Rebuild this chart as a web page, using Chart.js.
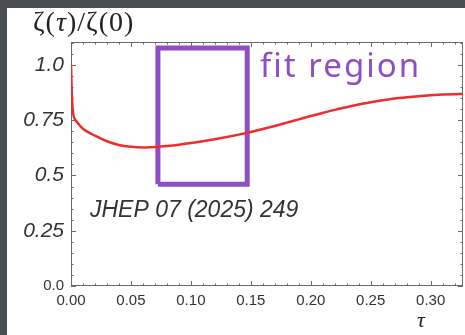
<!DOCTYPE html>
<html>
<head>
<meta charset="utf-8">
<script src="https://cdn.jsdelivr.net/npm/chart.js@4.4.1/dist/chart.umd.min.js"></script>
<style>
html, body { margin: 0; padding: 0; width: 465px; height: 335px; overflow: hidden; background: #4a4d51; }
#panel { position: absolute; left: 7px; top: 8px; width: 458px; height: 327px; background: #fff; }
#wrap { position: absolute; left: 0; top: 0; width: 465px; height: 335px; }
</style>
</head>
<body>
<div id="panel"></div>
<div id="wrap"><canvas id="chart1"></canvas></div>
<script>
// curve
const tauValues = [0, 0.0005, 0.001, 0.002, 0.003, 0.005, 0.0075, 0.01, 0.02, 0.03, 0.04, 0.05, 0.06, 0.07,
    0.08, 0.09, 0.10, 0.11, 0.12, 0.13, 0.14, 0.15, 0.16, 0.17, 0.18, 0.19, 0.20, 0.21, 0.22, 0.23,
    0.24, 0.25, 0.26, 0.27, 0.28, 0.29, 0.30, 0.31, 0.32, 0.327];
const zetaRatio = [1.00, 0.90, 0.83, 0.775, 0.757, 0.742, 0.725, 0.712, 0.68, 0.655, 0.638, 0.630, 0.627, 0.629,
    0.633, 0.639, 0.647, 0.655, 0.664, 0.674, 0.685, 0.697, 0.710, 0.724, 0.739, 0.754, 0.769, 0.783, 0.797, 0.809,
    0.821, 0.831, 0.840, 0.848, 0.854, 0.859, 0.863, 0.866, 0.868, 0.869];

const xTicks = [0, 0.05, 0.10, 0.15, 0.20, 0.25, 0.30];
const xTickLabels = ['0.00', '0.05', '0.10', '0.15', '0.20', '0.25', '0.30'];
const yTicks = [0, 0.25, 0.5, 0.75, 1.0];
const yTickLabels = ['0.0', '0.25', '0.5', '0.75', '1.0'];

// purple box: tau range and zeta range
const fitRegionTau = [0.0725, 0.147];
const fitRegionZeta = [0.46, 1.077];

const curvePoints = tauValues.map((t, i) => ({x: t, y: zetaRatio[i]}));
const boxPoints = [
    {x: fitRegionTau[0], y: fitRegionZeta[0]},
    {x: fitRegionTau[0], y: fitRegionZeta[1]},
    {x: fitRegionTau[1], y: fitRegionZeta[1]},
    {x: fitRegionTau[1], y: fitRegionZeta[0]},
    {x: fitRegionTau[0], y: fitRegionZeta[0]}
];

// Mathematica style frame with inward ticks
const frameTicks = {
    id: 'frameTicks',
    beforeDatasetsDraw(chart) {
        const {ctx, chartArea: a, scales: {x, y}} = chart;
        ctx.save();
        ctx.strokeStyle = '#6a6a6a';
        ctx.lineWidth = 1;
        ctx.strokeRect(a.left + 0.5, a.top + 0.5, a.right - a.left - 1, a.bottom - a.top - 1);
        ctx.beginPath();
        for (let i = 0; i <= 33; i++) {
            const px = Math.round(x.getPixelForValue(i / 100)) + 0.5;
            if (px > a.right) break;
            const len = i % 5 === 0 ? 5 : 2.5;
            ctx.moveTo(px, a.bottom); ctx.lineTo(px, a.bottom - len);
            ctx.moveTo(px, a.top); ctx.lineTo(px, a.top + len);
        }
        for (let i = 0; i <= 22; i++) {
            const py = Math.round(y.getPixelForValue(i / 20)) + 0.5;
            if (py < a.top) break;
            const len = i % 5 === 0 ? 5 : 2.5;
            ctx.moveTo(a.left, py); ctx.lineTo(a.left + len, py);
            ctx.moveTo(a.right, py); ctx.lineTo(a.right - len, py);
        }
        ctx.stroke();
        ctx.restore();
    },
    afterDraw(chart) {
        const ctx = chart.ctx;
        ctx.save();
        ctx.fillStyle = '#222';
        ctx.textBaseline = 'alphabetic';
        ctx.font = '28px "Liberation Serif"';
        ctx.letterSpacing = '1px';
        ctx.fillText('\u03B6(', 33, 31);
        let w = ctx.measureText('\u03B6(').width;
        ctx.font = 'italic 28px "Liberation Serif"';
        ctx.fillText('\u03C4', 33 + w, 31);
        w += ctx.measureText('\u03C4').width;
        ctx.font = '28px "Liberation Serif"';
        ctx.fillText(')/\u03B6(0)', 33 + w, 31);
        ctx.letterSpacing = '0px';
        ctx.font = 'italic 22px "Liberation Serif"';
        ctx.fillText('\u03C4', 417, 327);
        ctx.fillStyle = '#8e4ec6';
        ctx.font = '33px "Noto Sans"';
        ctx.letterSpacing = '2px';
        ctx.fillText('fit region', 260, 77);
        ctx.letterSpacing = '0px';
        ctx.fillStyle = '#333';
        ctx.font = 'italic 23px "Liberation Sans"';
        ctx.fillText('JHEP 07 (2025) 249', 90, 217);
        ctx.restore();
    }
};

const ctx1 = document.getElementById('chart1');
new Chart(ctx1, {
    type: 'scatter',
    data: {
        datasets: [{
            data: curvePoints,
            showLine: true,
            borderColor: '#ee2d2d',
            borderWidth: 2.5,
            pointRadius: 0,
            cubicInterpolationMode: 'monotone'
        }, {
            data: boxPoints,
            showLine: true,
            borderColor: '#8e4ec6',
            borderWidth: 5,
            borderJoinStyle: 'miter',
            pointRadius: 0,
            tension: 0
        }]
    },
    options: {
        responsive: true,
        maintainAspectRatio: false,
        animation: false,
        layout: {padding: {top: 42, right: 2, left: 0, bottom: 0}},
        plugins: {legend: {display: false}, tooltip: {enabled: false}},
        scales: {
            x: {
                type: 'linear',
                min: 0,
                max: 0.327,
                grid: {display: false, drawTicks: false},
                border: {display: false},
                afterBuildTicks: (s) => { s.ticks = xTicks.map(v => ({value: v})); },
                afterFit: (s) => { s.height = 49; },
                ticks: {
                    padding: 6,
                    color: '#333',
                    font: {family: 'Liberation Sans', size: 15},
                    callback: (v, i) => xTickLabels[i]
                }
            },
            y: {
                min: 0,
                max: 1.104,
                grid: {display: false, drawTicks: false},
                border: {display: false},
                afterBuildTicks: (s) => { s.ticks = yTicks.map(v => ({value: v})); },
                afterFit: (s) => { s.width = 71; },
                ticks: {
                    padding: 7,
                    color: '#333',
                    font: (c) => c.index === 0
                        ? {family: 'Liberation Sans', size: 15}
                        : {family: 'Liberation Sans', size: 21, style: 'italic'},
                    callback: (v, i) => yTickLabels[i]
                }
            }
        }
    },
    plugins: [frameTicks]
});
</script>
</body>
</html>
